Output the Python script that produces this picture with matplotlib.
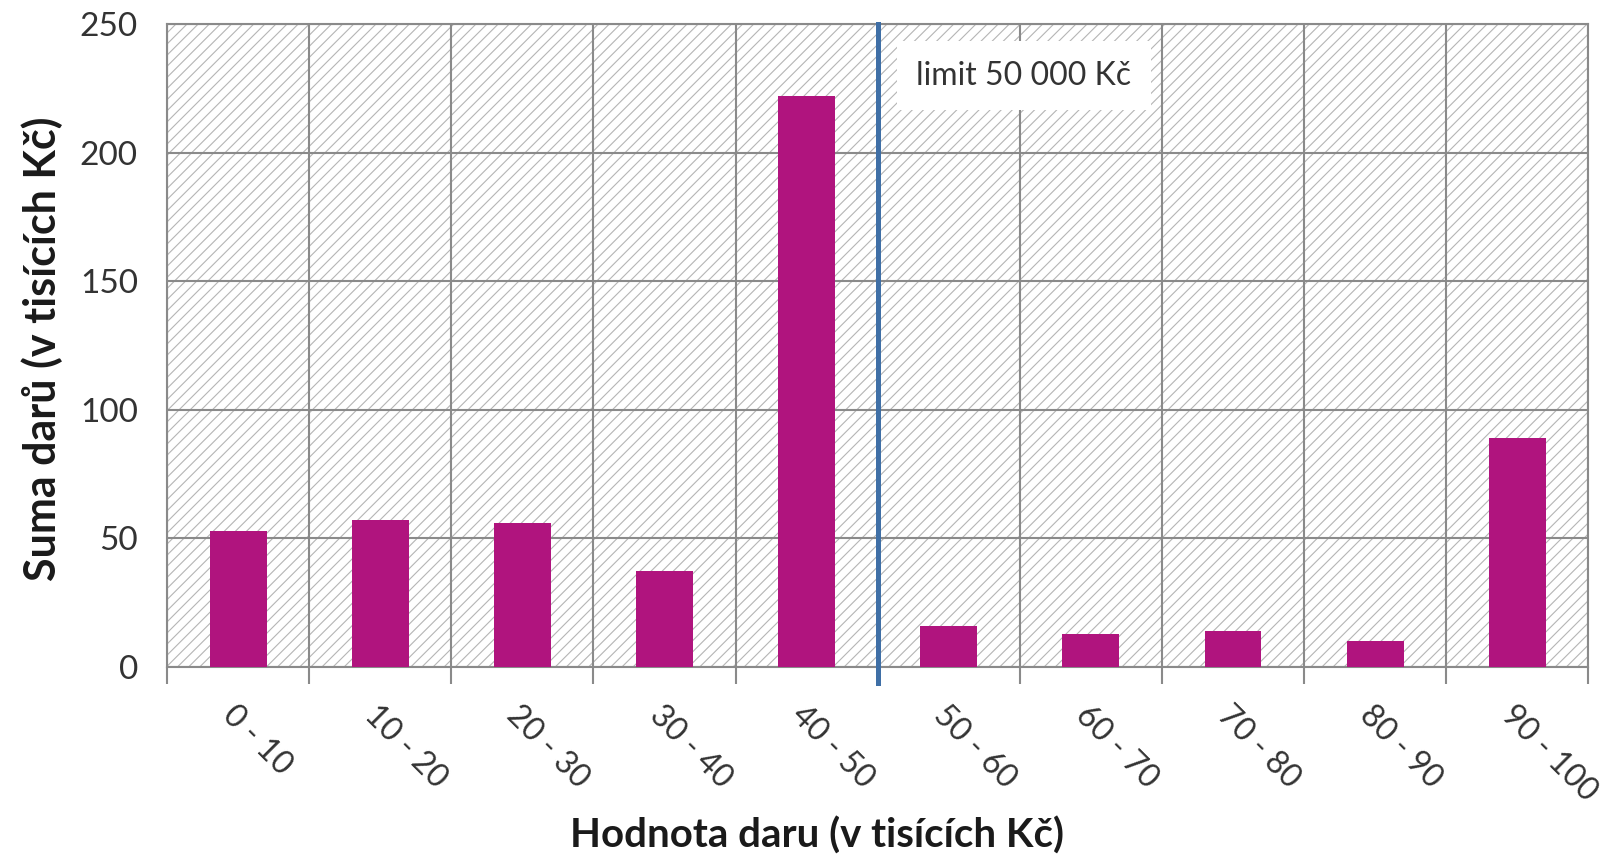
import matplotlib.pyplot as plt
from matplotlib.patches import Rectangle

plt.rcParams['font.family'] = ['Lato', 'DejaVu Sans']
plt.rcParams['hatch.linewidth'] = 0.8

# donation value bins (thousand CZK) and sum of donations
categories = ['0 - 10', '10 - 20', '20 - 30', '30 - 40', '40 - 50',
              '50 - 60', '60 - 70', '70 - 80', '80 - 90', '90 - 100']
sums = [53, 57, 56, 37.5, 222, 16, 13, 14, 10, 89]
limit_pos = 4.5
limit_label = 'limit 50 000 Kč'
y_ticks = [0, 50, 100, 150, 200, 250]

grid_col = '#8a8a8a'

fig = plt.figure(figsize=(16.06, 8.61), dpi=100)
ax = fig.add_axes([0.104, 0.2253, 0.885, 0.7467])

# hatched plot-area background
bg = Rectangle((0, 0), 1, 1, transform=ax.transAxes, facecolor='white',
               edgecolor='#b5b5b5', hatch='///', linewidth=0, zorder=0.1)
ax.add_patch(bg)

x = list(range(len(categories)))
ax.bar(x, sums, width=0.4, color='#b0147e', zorder=3)

ax.axvline(limit_pos, color='#3f6fa6', lw=3.6, zorder=4, ymin=-0.025, clip_on=False)
ax.text(limit_pos + 0.27, 230, limit_label, fontsize=23, color='#333333',
        va='center', ha='left', zorder=5,
        bbox=dict(facecolor='white', edgecolor='none', pad=14))

ax.set_xlim(-0.5, len(categories) - 0.5)
ax.set_ylim(0, 250)
ax.set_yticks(y_ticks)
ax.set_yticklabels([str(v) for v in y_ticks], fontsize=24, color='#333333')

# gridlines at category boundaries
bounds = [i - 0.5 for i in range(len(categories) + 1)]
ax.set_xticks(bounds)
ax.set_xticklabels([])
ax.set_xticks(x, minor=True)
ax.set_xticklabels(categories, minor=True, rotation=-45, ha='left', va='top',
                   rotation_mode='anchor', fontsize=23, color='#333333')
ax.tick_params(axis='x', which='minor', length=0, pad=24)
ax.tick_params(axis='x', which='major', length=12, width=1.5, color=grid_col)
ax.tick_params(axis='y', length=0, pad=21)

ax.grid(True, which='major', color=grid_col, lw=1.5, zorder=1)
ax.set_axisbelow(True)
for s in ax.spines.values():
    s.set_color(grid_col)
    s.set_linewidth(1.5)

ax.set_xlabel('Hodnota daru (v tisících Kč)', fontsize=29, fontweight='bold',
              color='#1a1a1a', va='center')
ax.xaxis.set_label_coords(0.457, -0.262)
ax.set_ylabel('Suma darů (v tisících Kč)', fontsize=31, fontweight='bold',
              color='#1a1a1a', va='center')
ax.yaxis.set_label_coords(-0.088, 0.495)

fig.savefig('out.png', dpi=100)
